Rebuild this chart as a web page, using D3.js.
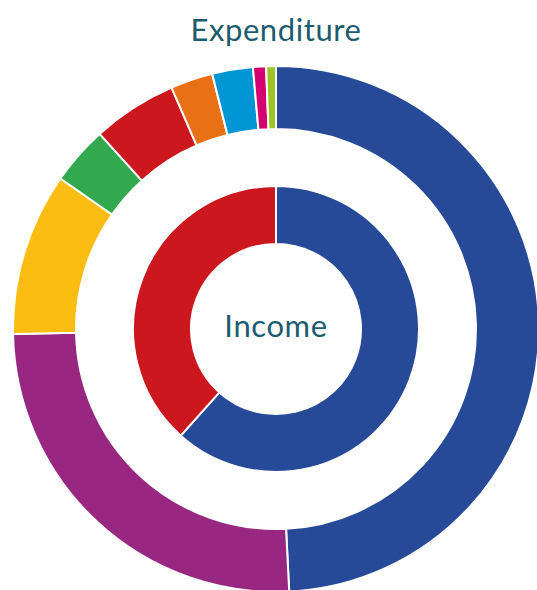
<!DOCTYPE html>
<meta charset="utf-8">
<style>
body {
  background: #fff;
  margin: 0;
  padding: 0;
}
.label {
  text-anchor: middle;
  font-family: Lato, 'Open Sans', sans-serif;
  font-size: 31px;
  letter-spacing: 0.6px;
  fill: #1d5b6f;
}
.slice {
  stroke: #fff;
  stroke-width: 2px;
}
</style>
<body>
<script src="https://d3js.org/d3.v7.min.js"></script>
<script>
// expenditure, clockwise from 12 o'clock (share of total, %)
var expenditureNames = ["Blue", "Purple", "Yellow", "Green", "Red", "Orange", "Light blue", "Magenta", "Lime"];
var expenditureValues = [49.2, 25.5, 10.0, 3.6, 5.2, 2.6, 2.5, 0.8, 0.6];
var expenditureColors = ["#274a98", "#982781", "#fbbd12", "#33a94f", "#cc171f", "#e87015", "#0095d4", "#d4006f", "#9bc424"];

// income
var incomeNames = ["Blue", "Red"];
var incomeValues = [61.6, 38.4];
var incomeColors = ["#274a98", "#cc171f"];

var width = 537,
    height = 590,
    cx = 276,
    cy = 329;

var svg = d3.select("body").append("svg")
    .attr("width", width)
    .attr("height", height)
    .style("display", "block");

var pie = d3.pie().sort(null);

var outerArc = d3.arc().innerRadius(200).outerRadius(263);
var innerArc = d3.arc().innerRadius(85).outerRadius(143);

var g = svg.append("g")
    .attr("transform", "translate(" + cx + "," + cy + ")");

g.selectAll(".outer")
    .data(pie(expenditureValues))
  .enter().append("path")
    .attr("class", "slice outer")
    .attr("fill", function(d, i) { return expenditureColors[i]; })
    .attr("d", outerArc);

g.selectAll(".inner")
    .data(pie(incomeValues))
  .enter().append("path")
    .attr("class", "slice inner")
    .attr("fill", function(d, i) { return incomeColors[i]; })
    .attr("d", innerArc);

svg.append("text")
    .attr("class", "label")
    .attr("x", cx)
    .attr("y", 41)
    .text("Expenditure");

g.append("text")
    .attr("class", "label")
    .attr("y", 8)
    .text("Income");
</script>
</body>
